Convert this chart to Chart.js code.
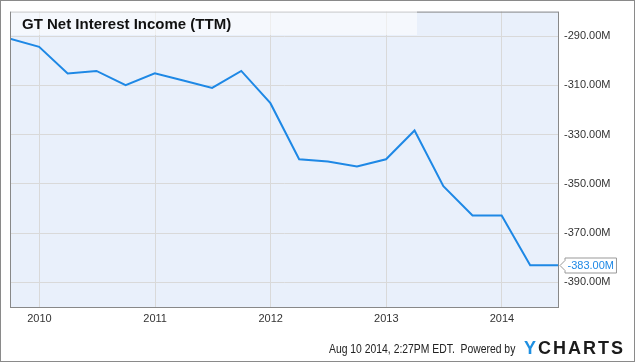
<!DOCTYPE html>
<html>
<head>
<meta charset="utf-8">
<script src="https://cdn.jsdelivr.net/npm/chart.js@4.4.1/dist/chart.umd.min.js"></script>
<style>
  html, body { margin: 0; padding: 0; background: #fff; }
  #wrap { position: relative; width: 635px; height: 362px; font-family: "Liberation Sans", Arial, sans-serif; }
  #theChart { position: absolute; left: 0; top: 0; }
  #title { position: absolute; left: 11px; top: 11px; width: 406px; height: 24px; background: rgba(255,255,255,0.55);
           font-weight: bold; font-size: 15px; line-height: 25px; color: #111; padding-left: 11px; box-sizing: border-box; }
  #stamp { position: absolute; left: 329px; top: 341px; font-size: 13px; line-height: 16px; color: #222;
           white-space: nowrap; transform-origin: left center; }
  #logo { position: absolute; left: 524px; top: 338px; font-size: 18px; font-weight: bold; letter-spacing: 2px;
          line-height: 20px; color: #1b1b1b; white-space: nowrap; }
  #logo span { color: #1e8fe1; }
</style>
</head>
<body>
<div id="wrap">
  <canvas id="theChart" width="635" height="362"></canvas>
  <div id="title">GT Net Interest Income (TTM)</div>
  <div id="stamp">Aug 10 2014, 2:27PM EDT.&nbsp; Powered by</div>
  <div id="logo"><span>Y</span>CHARTS</div>
</div>
<script>
// quarterly TTM values, in millions
var dates = ['2009-09-30', '2009-12-31', '2010-03-31', '2010-06-30', '2010-09-30', '2010-12-31',
             '2011-03-31', '2011-06-30', '2011-09-30', '2011-12-31', '2012-03-31', '2012-06-30',
             '2012-09-30', '2012-12-31', '2013-03-31', '2013-06-30', '2013-09-30', '2013-12-31',
             '2014-03-31', '2014-06-30'];
var values = [-291, -294.3, -305.1, -304.1, -309.9, -305.1,
              -308, -311, -304.1, -317.2, -340.0, -340.9,
              -342.9, -340.0, -328.3, -350.9, -362.8, -362.8,
              -383, -383];
var yearTicks = [2010, 2011, 2012, 2013, 2014];
var valueTicks = [-390, -370, -350, -330, -310, -290];
var yMin = -400, yMax = -280;

function decimalYear(s) {
    var p = s.split('-');
    var y = parseInt(p[0], 10);
    var start = Date.UTC(y, 0, 1), end = Date.UTC(y + 1, 0, 1);
    var t = Date.UTC(y, parseInt(p[1], 10) - 1, parseInt(p[2], 10));
    return y + (t - start) / (end - start);
}
var points = dates.map(function (d, i) { return { x: decimalYear(d), y: values[i] }; });

var fontFamily = '"Liberation Sans", Arial, sans-serif';

var frame = {
    id: 'frame',
    beforeDraw: function (chart) {
        var c = chart.ctx, a = chart.chartArea;
        c.save();
        c.fillStyle = '#fff';
        c.fillRect(0, 0, chart.width, chart.height);
        c.fillStyle = '#e9f0fb';
        c.fillRect(a.left, a.top, a.right - a.left, a.bottom - a.top);
        c.restore();
    },
    afterDraw: function (chart) {
        var c = chart.ctx, a = chart.chartArea;
        c.save();
        c.strokeStyle = '#888';
        c.lineWidth = 1;
        c.strokeRect(a.left + 0.5, a.top + 0.5, a.right - a.left - 1, a.bottom - a.top);
        c.strokeStyle = '#8a8a8a';
        c.strokeRect(0.5, 0.5, chart.width - 1, chart.height - 1);

        // last value marker
        var last = values[values.length - 1];
        var y = Math.round(chart.scales.y.getPixelForValue(last)) + 0.5;
        var txt = last.toFixed(2) + 'M';
        c.font = '11px ' + fontFamily;
        var w = c.measureText(txt).width + 5;
        var x0 = a.right + 6, h = 15;
        c.beginPath();
        c.moveTo(a.right + 1, y);
        c.lineTo(x0, y - 5);
        c.lineTo(x0, y - h / 2);
        c.lineTo(x0 + w, y - h / 2);
        c.lineTo(x0 + w, y + h / 2);
        c.lineTo(x0, y + h / 2);
        c.lineTo(x0, y + 5);
        c.closePath();
        c.fillStyle = '#fff';
        c.fill();
        c.strokeStyle = '#999';
        c.stroke();
        c.fillStyle = '#1e88e5';
        c.textBaseline = 'middle';
        c.fillText(txt, x0 + 2.5, y + 0.5);
        c.restore();
    }
};

var ctx = document.getElementById('theChart').getContext('2d');
var chart = new Chart(ctx, {
    type: 'line',
    data: {
        datasets: [{
            data: points,
            borderColor: '#1e88e5',
            borderWidth: 2,
            pointRadius: 0,
            tension: 0,
            fill: false
        }]
    },
    options: {
        responsive: false,
        animation: false,
        parsing: true,
        layout: { padding: { left: 10, top: 10, right: 0, bottom: 0 } },
        plugins: { legend: { display: false }, tooltip: { enabled: false }, title: { display: false } },
        scales: {
            x: {
                type: 'linear',
                min: points[0].x,
                max: points[points.length - 1].x,
                afterBuildTicks: function (s) { s.ticks = yearTicks.map(function (v) { return { value: v }; }); },
                afterFit: function (s) { s.height = 55; },
                grid: { color: '#d9d9d9', drawTicks: false },
                border: { display: false },
                ticks: {
                    padding: 5, color: '#333', maxRotation: 0, autoSkip: false,
                    font: { family: fontFamily, size: 11 },
                    callback: function (v) { return String(v); }
                }
            },
            y: {
                position: 'right',
                min: yMin,
                max: yMax,
                afterBuildTicks: function (s) { s.ticks = valueTicks.map(function (v) { return { value: v }; }); },
                afterFit: function (s) { s.width = 76; },
                grid: { color: '#d9d9d9', drawTicks: false },
                border: { display: false },
                ticks: {
                    padding: 5, color: '#333', autoSkip: false,
                    font: { family: fontFamily, size: 11 },
                    callback: function (v) { return v.toFixed(2) + 'M'; }
                }
            }
        }
    },
    plugins: [frame]
});

// squeeze the timestamp to the width used in the original
var stamp = document.getElementById('stamp');
var k = 186 / stamp.offsetWidth;
stamp.style.transform = 'scaleX(' + k + ')';
</script>
</body>
</html>
